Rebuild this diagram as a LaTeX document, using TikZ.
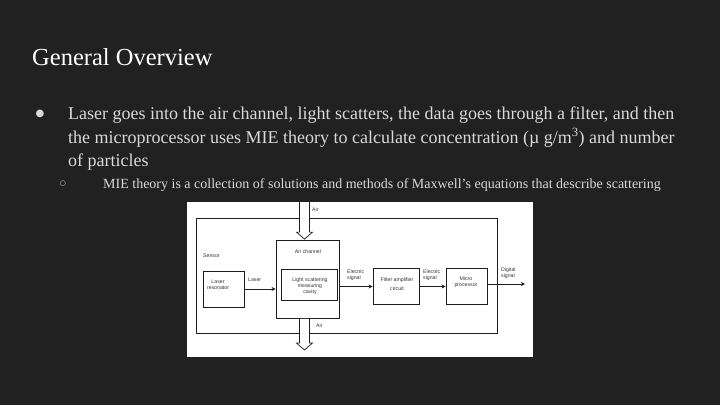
\documentclass[tikz,border=0pt]{standalone}
\usepackage{fontspec}
\setmainfont{Liberation Serif}
\newfontfamily\diagfont{Liberation Sans}
\newfontfamily\symfont{DejaVu Sans}
\usetikzlibrary{calc,arrows.meta,positioning}
\definecolor{slidebg}{HTML}{212121}
\definecolor{slidetext}{HTML}{D9D9D9}
\definecolor{diagline}{HTML}{1E1E1E}
\definecolor{diagtext}{HTML}{333333}

\begin{document}
\begin{tikzpicture}[x=1pt,y=-1pt,
  txt/.style={anchor=base west,inner sep=0pt,text=slidetext,font=\fontsize{18}{21}\selectfont},
  subtxt/.style={anchor=base west,inner sep=0pt,text=slidetext,font=\fontsize{14}{16}\selectfont},
  box/.style={draw=diagline,line width=.8pt,inner sep=0pt},
  lbl/.style={inner sep=0pt,align=center,text=diagtext,font=\diagfont\fontsize{5.2}{6.2}\selectfont},
  flow/.style={draw=diagline,line width=.8pt,-{Stealth[length=4pt,width=4pt]}},
  hollow/.style={draw=diagline,line width=.7pt,fill=white,line join=miter}]
\useasboundingbox (0,0) rectangle (720,405);
\fill[slidebg] (0,0) rectangle (720,405);
% slide text
\node[anchor=base west,inner sep=0pt,text=white,font=\fontsize{24.5}{28}\selectfont] (title) at (32,65) {General Overview};
\node[inner sep=0pt,text=slidetext,font=\symfont\fontsize{10}{12}\selectfont] (dot) at (40,114) {●};
\node[txt] (l1) at (68,119.5) {Laser goes into the air channel, light scatters, the data goes through a filter, and then};
\node[txt] (l2) at (68,143) {the microprocessor uses MIE theory to calculate concentration (µ g/m\textsuperscript{3}) and number};
\node[txt] (l3) at (68,166.5) {of particles};
\node[inner sep=0pt,text=slidetext,font=\symfont\fontsize{7}{8}\selectfont] (ring) at (63,184) {○};
\node[subtxt] (s1) at (103,188.5) {MIE theory is a collection of solutions and methods of Maxwell’s equations that describe scattering};
% block diagram
\node[fill=white,minimum width=346,minimum height=155,inner sep=0pt] (panel) at (360,279.5) {};
\node[box,minimum width=301,minimum height=115] (sensor) at (346.5,275.5) {};
\node[lbl,anchor=west] (sensorlbl) at (203,256) {Sensor};
\node[box,minimum width=41,minimum height=36] (laser) at (223.5,289) {};
\node[lbl] (lasertxt) at (218,285) {Laser\\resonator};
\node[box,minimum width=63,minimum height=78] (airch) at (307.5,279) {};
\node[lbl] (airchlbl) at (308,252) {Air channel};
\node[box,minimum width=56,minimum height=31] (cavity) at (309,284.5) {};
\node[lbl] (cavitytxt) at (310,286) {Light scattering\\measuring\\cavity};
\node[box,minimum width=46,minimum height=36] (filter) at (396,286.5) {};
\node[lbl] (filtertxt) at (397,284) {Filter amplifier\\[3pt]circuit};
\node[box,minimum width=41,minimum height=36] (micro) at (466.5,286.5) {};
\node[lbl] (microtxt) at (466,282) {Micro\\processor};
\coordinate (airin) at (304.5,202);
\coordinate (airout) at (304.5,350);
\coordinate (digout) at (525,284);
% air through the channel
\draw[hollow] ($(airin)+(-5,0)$) -- ($(airin |- airch.north)+(-5,-7.5)$) -- ++(-3,0) -- ($(airin |- airch.north)+(0,-.5)$) -- ($(airin |- airch.north)+(8,-7.5)$) -- ++(-3,0) -- ($(airin)+(5,0)$);
\draw[hollow] ($(airin |- airch.south)+(-5,.5)$) -- ($(airout)+(-5,-7)$) -- ++(-3,0) -- (airout) -- ($(airout)+(8,-7)$) -- ++(-3,0) -- ($(airin |- airch.south)+(5,.5)$);
\node[lbl,anchor=west] (airinlbl) at (312,210) {Air};
\node[lbl,anchor=west] (airoutlbl) at (316,326) {Air};
% signal path
\draw[flow] (laser.east) -- (laser.east -| airch.west);
\foreach \a/\b in {airch/filter,filter/micro}{\draw[flow] (\b.west -| \a.east) -- (\b.west);}
\draw[flow] (micro.east |- digout) -- (digout);
\node[lbl,anchor=west] (laserlbl) at (248,280) {Laser};
\node[lbl,anchor=west,align=left] (sig1) at (347,275) {Electric\\signal};
\node[lbl,anchor=west,align=left] (sig2) at (423,275) {Electric\\signal};
\node[lbl,anchor=west,align=left] (sig3) at (501,273) {Digital\\signal};
\end{tikzpicture}
\end{document}
